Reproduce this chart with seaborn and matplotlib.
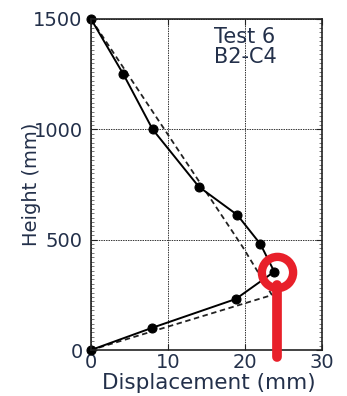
import numpy as np
import pandas as pd
import matplotlib
matplotlib.use("Agg")
import matplotlib.pyplot as plt
import seaborn as sns
from matplotlib.ticker import MultipleLocator

# Measured profile (solid line with markers)
meas_disp = [0, 4.2, 8.0, 14.0, 19.0, 22.0, 23.8, 18.8, 7.9, 0]
meas_height = [1500, 1250, 1000, 740, 612, 480, 355, 231, 100, 0]

# Reference profile (dashed line)
ref_disp = [0, 19.7, 23.5, 0]
ref_height = [1500, 467, 249, 0]

# Highlight annotation (red circle + stem)
hl_disp = 24.2
hl_height = 355
stem_top = 295
stem_bottom = -32

x_ticks = [0, 10, 20, 30]
y_ticks = [0, 500, 1000, 1500]
label_text = "Test 6\nB2-C4"

sns.set_theme(style="white")
plt.rcParams['font.family'] = ['DejaVu Sans']

fig = plt.figure(figsize=(3.47, 3.96), dpi=100)
ax = fig.add_axes([91/347, 1-350/396, (322-91)/347, (350-19)/396])

dfm = pd.DataFrame({"disp": meas_disp, "height": meas_height})
dfr = pd.DataFrame({"disp": ref_disp, "height": ref_height})

sns.lineplot(data=dfr, x="disp", y="height", sort=False, estimator=None, ax=ax,
             color="#222222", lw=1.3, linestyle=(0, (3, 2)))
sns.lineplot(data=dfm, x="disp", y="height", sort=False, estimator=None, ax=ax,
             color="black", lw=1.4, marker="o", markersize=6.5,
             markerfacecolor="black", markeredgecolor="black", clip_on=False)

# red annotation
ax.plot([hl_disp, hl_disp], [stem_top, stem_bottom], color="#e8202a", lw=7,
        solid_capstyle="round", clip_on=False, zorder=5)
ax.plot([hl_disp], [hl_height], marker="o", markersize=22.5, markerfacecolor="none",
        markeredgecolor="#e8202a", markeredgewidth=6, clip_on=False, zorder=6)

ax.set_xlim(0, 30)
ax.set_ylim(0, 1500)
ax.set_xticks(x_ticks)
ax.set_yticks(y_ticks)
ax.yaxis.set_minor_locator(MultipleLocator(20))

ax.grid(True, which="major", color="#333333", linestyle=(0, (1.5, 1)), lw=0.7)
for s in ax.spines.values():
    s.set_color("#222222")
    s.set_linewidth(1.2)

txtc = "#23304a"
ax.tick_params(axis="both", which="major", direction="in", length=4, width=0.8,
               bottom=True, left=True, top=True, right=True,
               labelsize=14, labelcolor=txtc, color="#222222")
ax.tick_params(axis="y", which="minor", direction="in", length=2, width=0.5,
               left=True, right=True, color="#444444")
ax.tick_params(axis="x", which="major", pad=2)
ax.tick_params(axis="y", which="major", pad=6)

ax.set_xlabel("Displacement (mm)", fontsize=15.5, color=txtc, va="top")
ax.xaxis.set_label_coords(0.51, -0.07)
ax.set_ylabel("Height (mm)", fontsize=14, color=txtc)
ax.yaxis.set_label_coords(-0.215, 0.5)

ax.text(0.667, 0.975, label_text, transform=ax.transAxes, ha="center", va="top",
        fontsize=15, color=txtc, linespacing=1.0)

fig.savefig("out.png", dpi=100)
